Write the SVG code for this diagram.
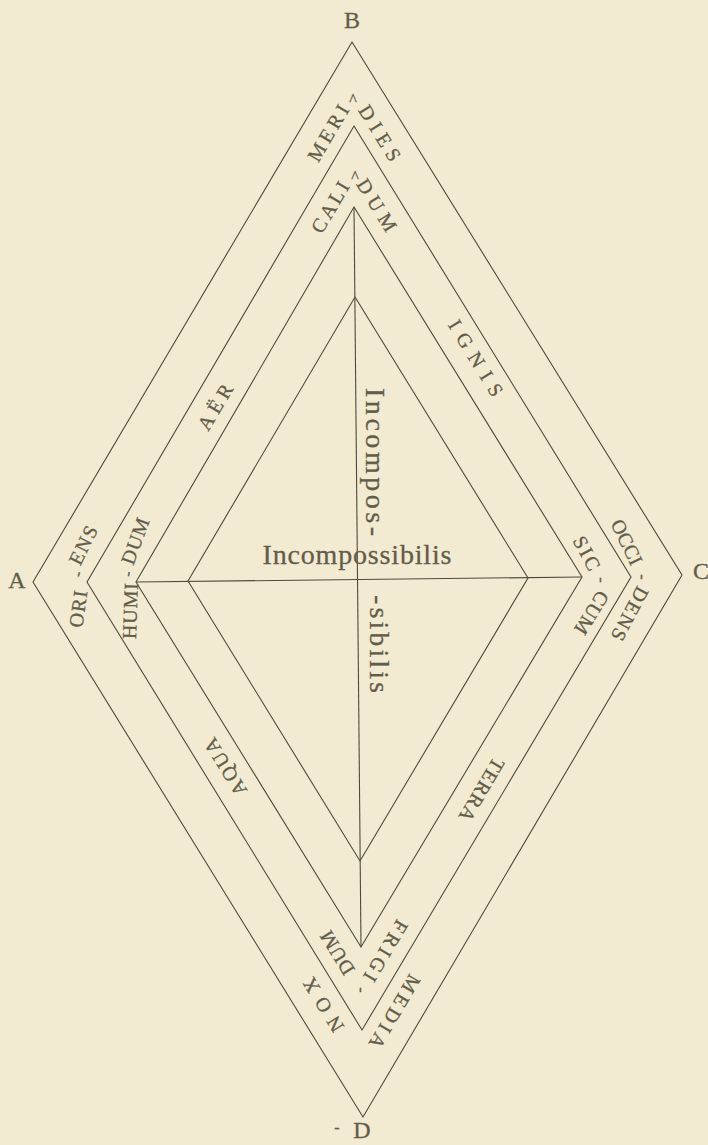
<svg xmlns="http://www.w3.org/2000/svg" width="708" height="1145" viewBox="0 0 708 1145">
<style>
.bg{fill:#f3ebd1}
.ln{fill:none;stroke:#4f4b3c;stroke-width:1.1}
.t{font-family:"Liberation Serif","Times New Roman",serif;fill:#625d4a;stroke:#625d4a;stroke-width:0.3;text-anchor:middle;dominant-baseline:central}
.b{font-size:20px}
.v{font-size:24px}
.c{font-size:28px}
.h{font-size:16px}
</style>
<rect class="bg" x="0" y="0" width="708" height="1145"/>
<g id="rhombi">
<polygon id="outer" class="ln" points="352,42 682,575 363,1117 33,582"/>
<polygon id="second" class="ln" points="354,126 631,577 362,1030 87,582"/>
<polygon id="third" class="ln" points="354,207 582,577 361,947 136,582"/>
<polygon id="inner" class="ln" points="355,297 528,578 360,861 188,581"/>
<line class="ln" x1="136" y1="582" x2="582" y2="577"/>
<line class="ln" x1="354" y1="207" x2="361" y2="947"/>
</g>
<g id="vertex-labels">
<text class="t v" x="352" y="20">B</text>
<text class="t v" x="17" y="580">A</text>
<text class="t v" x="701" y="571">C</text>
<text class="t h" x="337" y="1127">-</text>
<text class="t v" x="362" y="1130">D</text>
</g>
<g id="outer-band">
<text class="t b" transform="translate(328,133) rotate(-59.5)" textLength="62">MERI</text>
<text class="t h" x="353" y="99">^</text>
<text class="t b" transform="translate(380,133) rotate(58.3)" textLength="62">DIES</text>
<text class="t b" transform="translate(627,542) rotate(64)" textLength="48">OCCI</text>
<text class="t h" transform="translate(642,577) rotate(90)">-</text>
<text class="t b" transform="translate(630,614) rotate(118)" textLength="58">DENS</text>
<text class="t b" transform="translate(395,1012) rotate(120.5)" textLength="82">MEDIA</text>
<text class="t b" transform="translate(323,1005) rotate(-121.7)" textLength="60">NOX</text>
<text class="t b" transform="translate(78,609) rotate(-82)" textLength="37">ORI</text>
<text class="t h" transform="translate(77,574) rotate(-75)">-</text>
<text class="t b" transform="translate(83,545) rotate(-64)" textLength="41">ENS</text>
</g>
<g id="middle-band">
<text class="t b" transform="translate(330,207) rotate(-59.5)" textLength="56">CALI</text>
<text class="t h" x="355" y="176">^</text>
<text class="t b" transform="translate(377,205) rotate(58.3)" textLength="58">DUM</text>
<text class="t b" transform="translate(476,358) rotate(58.3)" textLength="86">IGNIS</text>
<text class="t b" transform="translate(587,553) rotate(62)" textLength="36">SIC</text>
<text class="t h" transform="translate(601,580) rotate(90)">-</text>
<text class="t b" transform="translate(592,613) rotate(122)" textLength="47">CUM</text>
<text class="t b" transform="translate(482,790) rotate(120.5)" textLength="70">TERRA</text>
<text class="t b" transform="translate(386,951) rotate(120.5)" textLength="68">FRIGI</text>
<text class="t h" transform="translate(361,990) rotate(90)">-</text>
<text class="t b" transform="translate(337,953) rotate(-121.7)" textLength="48">DUM</text>
<text class="t b" transform="translate(225,767) rotate(-121.7)" textLength="64">AQUA</text>
<text class="t b" transform="translate(130,611) rotate(-88)" textLength="56">HUMI</text>
<text class="t h" transform="translate(127,574) rotate(-80)">-</text>
<text class="t b" transform="translate(135,541) rotate(-70)" textLength="48">DUM</text>
<text class="t b" transform="translate(215,407) rotate(-59.5)" textLength="50">AËR</text>
</g>
<g id="centre-labels">
<text class="t c" x="357" y="554" textLength="189">Incompossibilis</text>
<text class="t c" transform="translate(375,462) rotate(90)" textLength="148">Incompos-</text>
<text class="t c" transform="translate(379,644) rotate(90)" textLength="98">-sibilis</text>
</g>
</svg>
